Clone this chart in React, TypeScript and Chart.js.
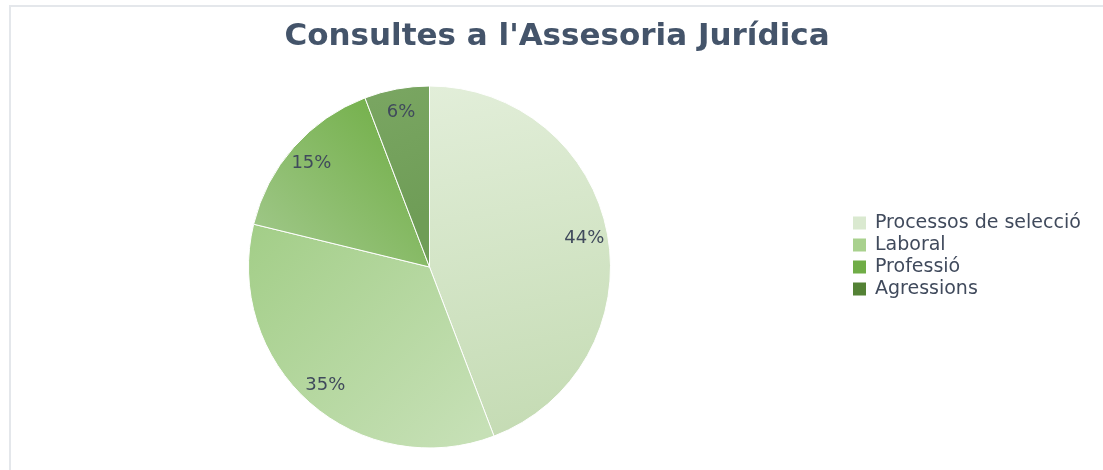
import React, { useEffect, useRef } from 'react';
import { Chart, registerables } from 'chart.js';

Chart.register(...registerables);

const title = "Consultes a l'Assesoria Jurídica";
const categories = ['Processos de selecció', 'Laboral', 'Professió', 'Agressions'];
const values = [44.2, 34.6, 15.4, 5.8];
const legendColors = ['#dae9d0', '#a9d18e', '#70ad47', '#548235'];
const gradientStops = [
  ['#e2eed9', '#c4dbb3'],
  ['#a3ce88', '#c6e0b6'],
  ['#70ae45', '#9fc788'],
  ['#7aa662', '#6f9d57'],
];

const W = 1103;
const H = 470;

const FONT = '"DejaVu Sans", sans-serif';

const decorPlugin = {
  id: 'decor',
  beforeDraw(chart: any) {
    const ctx = chart.ctx;
    ctx.save();
    ctx.fillStyle = '#ffffff';
    ctx.fillRect(0, 0, W, H);
    ctx.strokeStyle = '#e4e7eb';
    ctx.lineWidth = 2;
    ctx.beginPath();
    ctx.moveTo(10, H);
    ctx.lineTo(10, 6);
    ctx.lineTo(W + 2, 6);
    ctx.stroke();
    ctx.restore();
  },
  afterDatasetsDraw(chart: any) {
    const ctx = chart.ctx;
    const meta = chart.getDatasetMeta(0);
    const total = values.reduce((a, b) => a + b, 0);
    ctx.save();
    ctx.fillStyle = '#404a5c';
    ctx.font = `18px ${FONT}`;
    ctx.textAlign = 'center';
    ctx.textBaseline = 'middle';
    meta.data.forEach((arc: any, i: number) => {
      const { x, y, startAngle, endAngle, outerRadius } = arc.getProps(
        ['x', 'y', 'startAngle', 'endAngle', 'outerRadius'],
        true
      );
      const mid = (startAngle + endAngle) / 2;
      const r = outerRadius * 0.87;
      const lx = x + Math.cos(mid) * r;
      const ly = y + Math.sin(mid) * r;
      ctx.fillText(Math.round((values[i] / total) * 100) + '%', lx, ly);
    });
    ctx.restore();
  },
  afterDraw(chart: any) {
    const ctx = chart.ctx;
    ctx.save();
    ctx.fillStyle = '#44546a';
    ctx.font = `bold 31px ${FONT}`;
    ctx.textAlign = 'center';
    ctx.textBaseline = 'middle';
    ctx.fillText(title, 557, 37);

    ctx.font = `19px ${FONT}`;
    ctx.textAlign = 'left';
    const rowY = [223, 245, 267, 289];
    categories.forEach((c, i) => {
      ctx.fillStyle = legendColors[i];
      ctx.fillRect(853, rowY[i] - 6.5, 13, 13);
      ctx.fillStyle = '#404a5c';
      ctx.fillText(c, 875, rowY[i]);
    });
    ctx.restore();
  },
};

export default function App() {
  const ref = useRef<HTMLCanvasElement>(null);
  useEffect(() => {
    document.body.style.margin = '0';
    const canvas = ref.current!;
    const chart = new Chart(canvas, {
      type: 'pie',
      data: {
        labels: categories,
        datasets: [
          {
            data: values,
            backgroundColor: (c: any) => {
              const i = c.dataIndex;
              const area = c.chart.chartArea;
              if (!area) return legendColors[i];
              const g = c.chart.ctx;
              const cx = (area.left + area.right) / 2;
              const cy = (area.top + area.bottom) / 2;
              const r = (area.right - area.left) / 2;
              let grad;
              if (i === 0) grad = g.createLinearGradient(cx, cy - r, cx + r * 0.4, cy + r);
              else if (i === 1) grad = g.createLinearGradient(cx - r, cy - r * 0.2, cx + r * 0.2, cy + r);
              else if (i === 2) grad = g.createLinearGradient(cx - r * 0.1, cy - r * 0.9, cx - r * 0.9, cy - r * 0.1);
              else grad = g.createLinearGradient(cx - r * 0.3, cy - r, cx, cy - r * 0.3);
              grad.addColorStop(0, gradientStops[i][0]);
              grad.addColorStop(1, gradientStops[i][1]);
              return grad;
            },
            borderColor: '#ffffff',
            borderWidth: 1,
            hoverOffset: 0,
          },
        ],
      },
      options: {
        responsive: false,
        animation: false,
        layout: { padding: { left: 248, right: W - 611, top: 85.5, bottom: H - 448.5 } },
        plugins: {
          legend: { display: false },
          title: { display: false },
          tooltip: { enabled: false },
        },
      },
      plugins: [decorPlugin],
    });
    return () => chart.destroy();
  }, []);
  return (
    <div style={{ position: 'fixed', left: 0, top: 0, width: W, height: H, background: '#fff' }}>
      <canvas ref={ref} width={W} height={H} style={{ display: 'block' }} />
    </div>
  );
}
